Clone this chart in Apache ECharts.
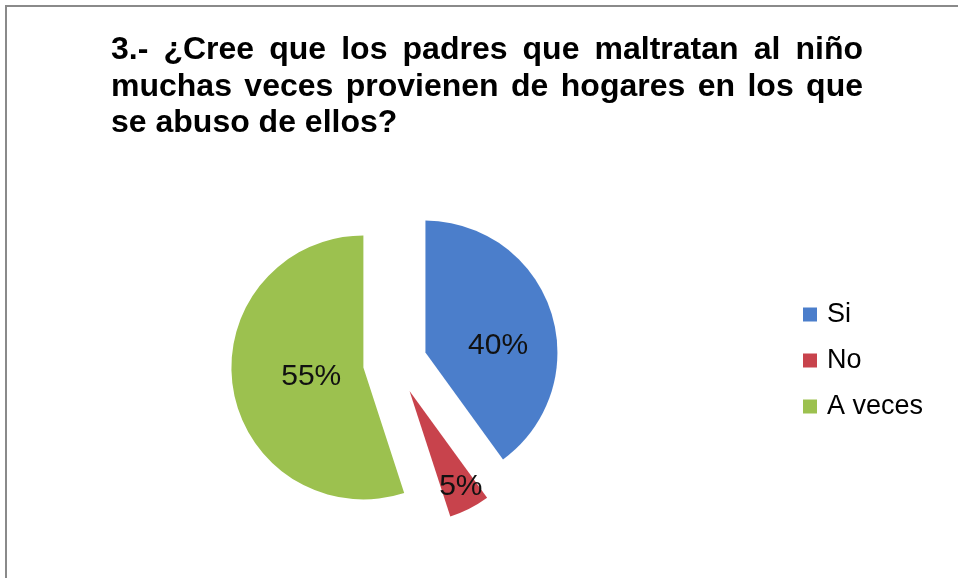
<!DOCTYPE html>
<html>
<head>
<meta charset="utf-8">
<script src="https://cdn.jsdelivr.net/npm/echarts@6/dist/echarts.min.js"></script>
<style>
html,body{margin:0;padding:0;background:#fff;}
#chart{width:958px;height:578px;}
</style>
</head>
<body>
<div id="chart"></div>
<script>
const categories = ['Si', 'No', 'A veces'];
const values = [40, 5, 55];
const titleLines = [
  '3.- ¿Cree que los padres que maltratan al niño',
  'muchas veces provienen de hogares en los que',
  'se abuso de ellos?'
];

const colors = ['#4B7ECB', '#C8434C', '#9CC14F'];
const labelNudge = [[7, 14], [20, 34], [16, -2]];

const chart = echarts.init(document.getElementById('chart'), null, {renderer: 'canvas'});

// title: justified lines built from measured word widths
const titleFont = 'bold 32px "Liberation Sans", Arial, sans-serif';
const ctx = document.createElement('canvas').getContext('2d');
ctx.font = titleFont;
const titleLeft = 111, titleRight = 863;
const lineY = [50, 87, 123];
const graphics = [];
titleLines.forEach((line, li) => {
  const words = line.split(' ');
  const justify = li < titleLines.length - 1;
  const widths = words.map(w => ctx.measureText(w).width);
  const total = widths.reduce((a, b) => a + b, 0);
  const gap = justify ? (titleRight - titleLeft - total) / (words.length - 1) : ctx.measureText(' ').width;
  let x = titleLeft;
  words.forEach((w, i) => {
    graphics.push({
      type: 'text', left: x, top: lineY[li] - 16, silent: true,
      style: {text: w, font: titleFont, fill: '#000', verticalAlign: 'top'}
    });
    x += widths[i] + gap;
  });
});
graphics.push({
  type: 'rect', silent: true, z: -1,
  shape: {x: 6, y: 6, width: 1100, height: 1100},
  style: {fill: 'none', stroke: '#8a8a8a', lineWidth: 2}
});

const option = {
  animation: false,
  backgroundColor: '#ffffff',
  graphic: graphics,
  legend: {
    orient: 'vertical',
    left: 798,
    top: 296,
    itemWidth: 14,
    itemHeight: 14,
    itemGap: 19,
    icon: 'rect',
    selectedMode: false,
    data: categories,
    textStyle: {
      fontFamily: '"Liberation Sans", Arial, sans-serif',
      fontSize: 27,
      color: '#000',
      padding: [0, 0, 0, 5]
    }
  },
  series: [{
    type: 'pie',
    center: [395, 362.5],
    radius: 132,
    startAngle: 90,
    clockwise: true,
    selectedMode: 'multiple',
    selectedOffset: 32,
    avoidLabelOverlap: false,
    emphasis: {disabled: true},
    label: {
      show: true,
      position: 'inside',
      formatter: '{d}%',
      fontFamily: '"Liberation Sans", Arial, sans-serif',
      fontSize: 30,
      color: '#111'
    },
    labelLine: {show: false},
    labelLayout: function (p) {
      const n = labelNudge[p.dataIndex];
      return {dx: n[0], dy: n[1]};
    },
    data: categories.map((c, i) => ({
      name: c, value: values[i], selected: true,
      itemStyle: {color: colors[i]},
      select: {itemStyle: {color: colors[i], borderWidth: 0}}
    }))
  }]
};
chart.setOption(option);
</script>
</body>
</html>
